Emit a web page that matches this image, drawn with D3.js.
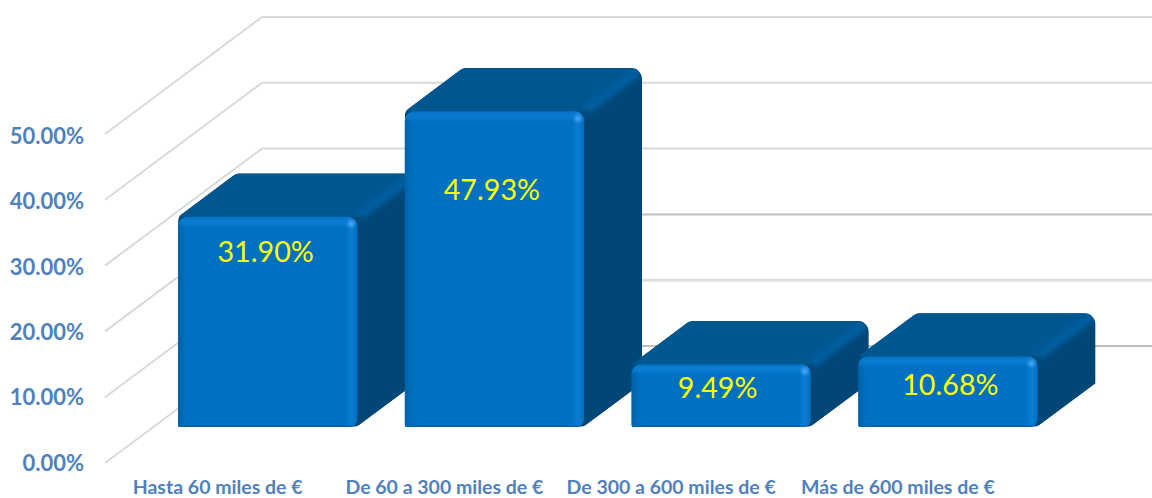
<!DOCTYPE html>
<html><head><meta charset="utf-8">
<script src="https://cdn.jsdelivr.net/npm/d3@7"></script>
<style>html,body{margin:0;padding:0;background:#fff;overflow:hidden}svg{display:block}text{font-family:Lato,"Open Sans",sans-serif}</style>
</head><body><svg id="c" width="1152" height="498"></svg>
<script>
const categories = ["Hasta 60 miles de €","De 60 a 300 miles de €","De 300 a 600 miles de €","Más de 600 miles de €"];
const values = [31.90,47.93,9.49,10.68];
const valueLabels = ["31.90%","47.93%","9.49%","10.68%"];
const yTicks = [0,10,20,30,40,50];
const tickLabels = ["0.00%","10.00%","20.00%","30.00%","40.00%","50.00%"];

const W=1152,H=498;
const svg=d3.select("#c");
const defs=svg.append("defs");
defs.append("filter").attr("id","soft").attr("filterUnits","userSpaceOnUse").attr("x",0).attr("y",0).attr("width",W).attr("height",H)
  .append("feGaussianBlur").attr("stdDeviation",2.4);
defs.append("filter").attr("id","softer").attr("filterUnits","userSpaceOnUse").attr("x",0).attr("y",0).attr("width",W).attr("height",H)
  .append("feGaussianBlur").attr("stdDeviation",1.8);

// Value scale on the front plane of the chart box, x scale along the floor.
const y=d3.scaleLinear().domain([0,50]).range([463,134]);
const yLabel=d3.scaleLinear().domain([0,50]).range([463,136]);
const depth=d3.scaleLinear().domain([0,1]).range([0,157]);
const rise=d3.scaleLinear().domain([0,1]).range([0,-117]);
const x=d3.scaleBand().domain(categories).range([0.6,907.6]).paddingInner(0.21).paddingOuter(0.105);
const P=(px,v,t)=>[105+px+depth(t),y(v)+rise(t)];
const frontDepth=0.31, backDepth=0.68;

// Gridlines: wall horizontals and left-wall diagonals
const grid=svg.append("g");
const wallStroke=d3.scaleOrdinal().domain(yTicks).range(["#bdbdbd","#dedede","#c0c0c0","#d9d9d9","#d9d9d9","#d9d9d9"]);
yTicks.forEach(v=>{
  const a=P(0,v,0),b=P(0,v,1);
  grid.append("line").attr("x1",a[0]).attr("y1",a[1]).attr("x2",b[0]).attr("y2",b[1]).attr("stroke","#d9d9d9").attr("stroke-width",2);
  grid.append("line").attr("x1",b[0]).attr("y1",b[1]).attr("x2",W).attr("y2",b[1]).attr("stroke",wallStroke(v)).attr("stroke-width",v===10?3:2);
});

function rounded(pts){
  const p=d3.path();
  const n=pts.length;
  const m=(a,b)=>[(a[0]+b[0])/2,(a[1]+b[1])/2];
  const s=m(pts[n-1],pts[0]);
  p.moveTo(s[0],s[1]);
  pts.forEach((q,i)=>{
    const nx=pts[(i+1)%n];
    p.arcTo(q[0],q[1],nx[0],nx[1],q[2]||0);
  });
  p.closePath();
  return p.toString();
}

const bars=svg.append("g");
categories.forEach((c,i)=>{
  const v=values[i];
  const l=x(c), r=l+x.bandwidth();
  const g=bars.append("g");
  const fbl=P(l,0,frontDepth),fbr=P(r,0,frontDepth),ftl=P(l,v,frontDepth),ftr=P(r,v,frontDepth);
  const bbr=P(r,0,backDepth),btl=P(l,v,backDepth),btr=P(r,v,backDepth);

  // Silhouette of the block: everything behind the front face lives inside it
  const outline=rounded([[ftl[0],ftl[1],8],[btl[0],btl[1],9],[btr[0],btr[1],11],[bbr[0],bbr[1],0],[fbr[0],fbr[1],7],[fbl[0],fbl[1],0]]);
  defs.append("clipPath").attr("id","s"+i).append("path").attr("d",outline);
  const gs=g.append("g").attr("clip-path",`url(#s${i})`);
  gs.append("path").attr("d",outline).attr("fill","#004778");
  gs.append("polygon").attr("points",[ftl,[btl[0]-12,btl[1]-4],[btr[0]+6,btr[1]-6],ftr].join(" ")).attr("fill","#00568f");
  gs.append("line").attr("x1",ftr[0]+2).attr("y1",ftr[1]-1).attr("x2",btr[0]-3).attr("y2",btr[1]+3)
    .attr("stroke","#005f9f").attr("stroke-width",9).attr("filter","url(#soft)");

  const frontD=rounded([[ftl[0],ftl[1],9],[ftr[0],ftr[1],9],[fbr[0],fbr[1],7],[fbl[0],fbl[1],2]]);
  g.append("path").attr("d",frontD).attr("fill","#0070c0");
  defs.append("clipPath").attr("id","f"+i).append("path").attr("d",frontD);
  const gf=g.append("g").attr("clip-path",`url(#f${i})`);
  gf.append("line").attr("x1",ftl[0]).attr("y1",ftl[1]+5).attr("x2",ftr[0]).attr("y2",ftr[1]+5)
    .attr("stroke","#0a7ed6").attr("stroke-width",6).attr("filter","url(#soft)");
  gf.append("line").attr("x1",ftr[0]-6).attr("y1",ftr[1]).attr("x2",fbr[0]-6).attr("y2",fbr[1])
    .attr("stroke","#0a7ed6").attr("stroke-width",6).attr("filter","url(#soft)");
  gf.append("line").attr("x1",ftl[0]+1).attr("y1",ftl[1]+8).attr("x2",fbl[0]+1).attr("y2",fbl[1])
    .attr("stroke","#005ea6").attr("stroke-width",5).attr("filter","url(#soft)");
  gf.append("line").attr("x1",fbl[0]).attr("y1",fbl[1]-0.5).attr("x2",fbr[0]).attr("y2",fbr[1]-0.5)
    .attr("stroke","#0062aa").attr("stroke-width",1.5);
  gf.append("circle").attr("cx",ftr[0]-6).attr("cy",ftr[1]+7).attr("r",3.2)
    .attr("fill","#45a6f5").attr("filter","url(#softer)");
});

// Data labels, nudged from the bar top as in the reference
const labelDrop=[35,79,23.5,28.5];
const labelShift=[-2,-2.5,-3.5,2.5];
categories.forEach((c,i)=>{
  const p=P(x(c)+x.bandwidth()/2,values[i],frontDepth);
  svg.append("text").attr("x",p[0]+labelShift[i]).attr("y",p[1]+labelDrop[i]).attr("dy","0.35em")
    .attr("text-anchor","middle").attr("font-size",28.7).attr("fill","#ffff00").text(valueLabels[i]);
});

// Axis labels
yTicks.forEach((v,i)=>{
  svg.append("text").attr("x",84).attr("y",yLabel(v)).attr("dy","0.35em").attr("text-anchor","end")
    .attr("font-size",22).attr("font-weight",700).attr("fill","#4f81bd").text(tickLabels[i]);
});
categories.forEach(c=>{
  const p=P(x(c)+x.bandwidth()/2,0,frontDepth);
  svg.append("text").attr("x",p[0]-50).attr("y",494).attr("text-anchor","middle")
    .attr("font-size",19.5).attr("font-weight",700).attr("fill","#4f81bd").text(c);
});
</script></body></html>
